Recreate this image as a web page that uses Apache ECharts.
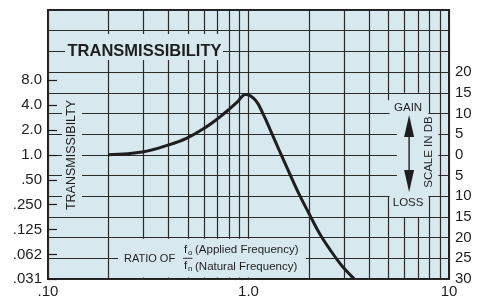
<!DOCTYPE html>
<html lang="en">
<head>
<meta charset="UTF-8" />
<title>Transmissibility</title>
<script src="https://cdn.jsdelivr.net/npm/echarts@6.0.0/dist/echarts.min.js"></script>
<style>html,body{margin:0;padding:0;background:#fff}</style>
</head>
<body>
<div id="chart" style="width:477px;height:297px"></div>
<script>
// frequency ratio fo/fn
var ratio = [0.2, 0.3, 0.4, 0.49, 0.6, 0.7, 0.8, 0.88, 0.966, 1.084, 1.19, 1.29, 1.42, 1.59, 1.78, 2.0, 2.25, 2.55, 2.9, 3.36];
// gain / loss in dB at each ratio
var gainDb = [0, 0.75, 2.4, 4.0, 6.4, 8.7, 11.0, 12.8, 14.6, 13.2, 9.6, 5.8, 1.2, -4.1, -9.3, -14.1, -18.8, -22.9, -26.6, -29.9];

// vertical grid lines (log ratio axis)
var xGrid = [0.1, 0.2, 0.3, 0.4, 0.5, 0.6, 0.7, 0.8, 0.9, 1, 2, 3, 4, 5, 6, 7, 8, 9, 10];
var xTicks = [0.1, 1, 10];
var xLabels = ['.10', '1.0', '10'];

// left scale: transmissibility
var transTicks = [8, 4, 2, 1, 0.5, 0.25, 0.125, 0.0625, 0.03125];
var transLabels = ['8.0', '4.0', '2.0', '1.0', '.50', '.250', '.125', '.062', '.031'];

// right scale: dB
var dbTicks = [-30, -25, -20, -15, -10, -5, 0, 5, 10, 15, 20];
var dbLabels = ['30', '25', '20', '15', '10', '5', '0', '5', '10', '15', '20'];

var BG = '#d8e8ef';
var LINE = '#2a2a2a';
var INK = '#1e1e1e';
var FONT = 'Liberation Sans, Arial, sans-serif';

var transDb = transTicks.map(function (t) { return Math.max(-30, 20 * Math.log10(t)); });

function nearestLabel(v, vals, labels) {
  var best = 0;
  for (var i = 1; i < vals.length; i++) {
    if (Math.abs(vals[i] - v) < Math.abs(vals[best] - v)) best = i;
  }
  return labels[best];
}

var chart = echarts.init(document.getElementById('chart'));

chart.setOption({
  animation: false,
  grid: {
    left: 48, right: 28, top: 10, bottom: 18,
    outerBoundsMode: 'none',
    show: true, backgroundColor: BG, borderColor: INK, borderWidth: 2
  },
  xAxis: [{
    type: 'log', logBase: 10, min: 0.1, max: 10, z: 1,
    axisLine: { show: false },
    axisTick: { show: false, customValues: xGrid },
    axisLabel: {
      customValues: xTicks, margin: 5, fontSize: 15, color: INK, fontFamily: FONT,
      formatter: function (v) { return nearestLabel(Math.log10(v), xTicks.map(Math.log10), xLabels); }
    },
    splitLine: { show: true, lineStyle: { color: LINE, width: 1.2 } }
  }],
  yAxis: [{
    type: 'value', min: -30, max: 35, interval: 5, z: 3,
    axisLine: { show: false }, axisTick: { show: false }, axisLabel: { show: false },
    splitLine: { show: true, lineStyle: { color: LINE, width: 1.2 } }
  }, {
    type: 'value', min: -30, max: 35, position: 'left', z: 5,
    axisLine: { show: false }, splitLine: { show: false },
    axisTick: { show: true, inside: true, length: 9, customValues: transDb, lineStyle: { color: INK, width: 1.2 } },
    axisLabel: {
      customValues: transDb, margin: 6, fontSize: 15, color: INK, fontFamily: FONT,
      formatter: function (v) { return nearestLabel(v, transDb, transLabels); }
    }
  }, {
    type: 'value', min: -30, max: 35, position: 'right', z: 5,
    axisLine: { show: false }, splitLine: { show: false }, axisTick: { show: false },
    axisLabel: {
      customValues: dbTicks, margin: 6, fontSize: 15, color: INK, fontFamily: FONT,
      formatter: function (v) { return nearestLabel(v, dbTicks, dbLabels); }
    }
  }],
  series: [{
    type: 'line', xAxisIndex: 0, yAxisIndex: 0, z: 6, silent: true,
    data: ratio.map(function (r, i) { return [r, gainDb[i]]; }),
    smooth: 0.4, symbol: 'none',
    lineStyle: { color: INK, width: 3 }
  }]
});

function px(r, db) {
  return chart.convertToPixel({ xAxisIndex: 0, yAxisIndex: 0 }, [r, db]);
}
function dataBox(r0, r1, d0, d1, z) {
  var a = px(r0, d1), b = px(r1, d0);
  return { type: 'rect', z: z, silent: true,
    shape: { x: a[0], y: a[1], width: b[0] - a[0], height: b[1] - a[1] }, style: { fill: BG } };
}
function pixBox(x0, y0, x1, y1) {
  return { type: 'rect', z: 4, silent: true,
    shape: { x: x0, y: y0, width: x1 - x0, height: y1 - y0 }, style: { fill: BG } };
}
function label(txt, x, y, size, opts) {
  opts = opts || {};
  return { type: 'text', z: 7, silent: true, x: x, y: y, rotation: opts.rot || 0,
    style: { text: txt, fill: INK, font: (opts.bold ? 'bold ' : '') + size + 'px ' + FONT,
      align: opts.align || 'center', verticalAlign: 'middle' } };
}

var x5 = px(5, 0)[0], x8 = px(8, 0)[0];
var mid = (x5 + x8) / 2 - 1;

chart.setOption({
  graphic: { elements: [
    // gaps cut only in the vertical lines
    dataBox(4.85, 5.15, -10, 13.2, 2),
    dataBox(5.5, 7.5, -15, 15, 2),
    dataBox(7.8, 8.2, -10, 10, 2),
    // gaps in both directions
    dataBox(5.05, 7.9, 7.5, 12.5, 4),
    dataBox(5.5, 8.85, -7.5, 7.5, 4),
    dataBox(5.05, 7.9, -12.5, -7.5, 4),
    pixBox(65, 34, 223, 60),
    pixBox(62, 96, 82, 214),
    pixBox(118, 238.8, 306, 277.5),

    label('TRANSMISSIBILITY', 144.5, 51.5, 16.5, { bold: true }),
    label('TRANSMISSIBILTY', 71.5, 155, 12.5, { rot: Math.PI / 2 }),

    label('GAIN', mid, 108, 11.5),
    { type: 'polygon', z: 7, silent: true, shape: { points: [[mid + 1, 115], [mid - 4, 137], [mid + 6, 137]] }, style: { fill: INK } },
    { type: 'line', z: 7, silent: true, shape: { x1: mid + 1, y1: 136, x2: mid + 1, y2: 171 }, style: { stroke: INK, lineWidth: 1.4 } },
    { type: 'polygon', z: 7, silent: true, shape: { points: [[mid + 1, 192], [mid - 4, 170], [mid + 6, 170]] }, style: { fill: INK } },
    label('LOSS', mid, 203, 11.5),
    label('SCALE IN DB', x8 - 1, 152, 11.5, { rot: Math.PI / 2 }),

    label('RATIO OF', 124, 258.5, 11, { align: 'left' }),
    label('f', 184, 250, 11.5, { align: 'left' }),
    label('o', 188, 253, 8, { align: 'left' }),
    { type: 'line', z: 7, silent: true, shape: { x1: 183, y1: 258.3, x2: 192.5, y2: 258.3 }, style: { stroke: INK, lineWidth: 0.9 } },
    label('f', 184, 265.5, 11.5, { align: 'left' }),
    label('n', 188, 268.5, 8, { align: 'left' }),
    label('(Applied Frequency)', 195, 250, 11.5, { align: 'left' }),
    label('(Natural Frequency)', 195, 266.5, 11.5, { align: 'left' })
  ] }
});
</script>
</body>
</html>
